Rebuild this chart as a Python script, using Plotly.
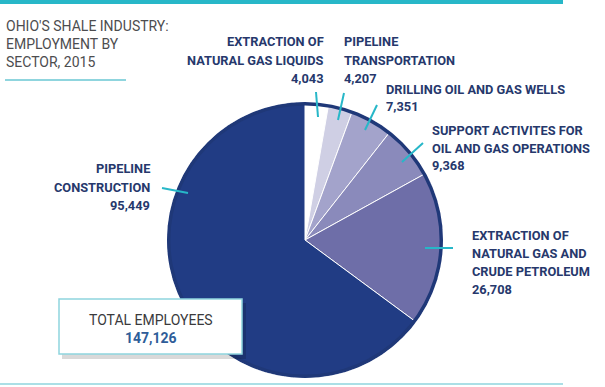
import plotly.graph_objects as go

# ---------------- data ----------------
sectors = [
    "Extraction of Natural Gas Liquids",
    "Pipeline Transportation",
    "Drilling Oil and Gas Wells",
    "Support Activites for Oil and Gas Operations",
    "Extraction of Natural Gas and Crude Petroleum",
    "Pipeline Construction",
]
employees = [4043, 4207, 7351, 9368, 26708, 95449]
label_lines = [
    ["EXTRACTION OF", "NATURAL GAS LIQUIDS"],
    ["PIPELINE", "TRANSPORTATION"],
    ["DRILLING OIL AND GAS WELLS"],
    ["SUPPORT ACTIVITES FOR", "OIL AND GAS OPERATIONS"],
    ["EXTRACTION OF", "NATURAL GAS AND", "CRUDE PETROLEUM"],
    ["PIPELINE", "CONSTRUCTION"],
]
title_lines = ["OHIO'S SHALE INDUSTRY:", "EMPLOYMENT BY", "SECTOR, 2015"]
total_label = "TOTAL EMPLOYEES"
total_employees = sum(employees)

# ---------------- styles ----------------
slice_colors = ["#ffffff", "#cfcfe4", "#a3a3cb", "#8a8abb", "#6e6ea8", "#213c84"]
NAVY = "#1f3878"
CYAN = "#27b7c8"
LIGHT_CYAN = "#8fd5de"
FONT = "Roboto, sans-serif"

W, H = 605, 387


def px(x):
    return x / W


def py(y):
    return 1 - y / H


# label layout (pixel anchors): x, alignment, y of first line
label_pos = [
    (326, "right", 42),
    (342, "left", 42),
    (384, "left", 89),
    (430, "left", 130),
    (470, "left", 235),
    (152, "right", 169),
]
PITCH = 18
leaders = [
    ((316, 92), (318, 117)),
    ((344, 93), (338, 120)),
    ((377, 105), (365, 130)),
    ((423, 143), (402, 162)),
    ((425, 248), (453, 248)),
    ((162, 188), (188, 193)),
]

# pie geometry: centre (305, 240), radius 138 px
cx, cy, r = 305, 240, 138
dom_x = [px(cx - r), px(cx + r)]
dom_y = [py(cy + r), py(cy - r)]

fig = go.Figure()
fig.add_trace(go.Pie(
    labels=sectors,
    values=employees,
    sort=False,
    direction="clockwise",
    rotation=0,
    marker=dict(colors=slice_colors, line=dict(color="#ffffff", width=1)),
    textinfo="none",
    hoverinfo="label+value",
    domain=dict(x=dom_x, y=dom_y),
    showlegend=False,
))
# outer navy rim
fig.add_trace(go.Pie(
    values=[1],
    hole=0.975,
    sort=False,
    marker=dict(colors=[NAVY], line=dict(width=0)),
    textinfo="none",
    hoverinfo="skip",
    domain=dict(x=dom_x, y=dom_y),
    showlegend=False,
))

shapes = []
# top rule
shapes.append(dict(type="rect", xref="paper", yref="paper",
                   x0=0, x1=px(563), y0=py(4), y1=py(0),
                   fillcolor=CYAN, line=dict(width=0)))
# bottom rule
shapes.append(dict(type="line", xref="paper", yref="paper",
                   x0=0, x1=px(563), y0=py(384), y1=py(384),
                   line=dict(color=LIGHT_CYAN, width=1.5)))
# title underline
shapes.append(dict(type="line", xref="paper", yref="paper",
                   x0=px(5), x1=px(126), y0=py(80), y1=py(80),
                   line=dict(color=LIGHT_CYAN, width=2)))
# leader lines
for (a, b) in leaders:
    shapes.append(dict(type="line", xref="paper", yref="paper",
                       x0=px(a[0]), y0=py(a[1]), x1=px(b[0]), y1=py(b[1]),
                       line=dict(color=CYAN, width=2)))
# total box shadow + box
shapes.append(dict(type="rect", xref="paper", yref="paper",
                   x0=px(62), x1=px(246), y0=py(359), y1=py(303),
                   fillcolor="rgba(0,0,0,0.15)", line=dict(width=0)))
shapes.append(dict(type="rect", xref="paper", yref="paper",
                   x0=px(59), x1=px(242), y0=py(354), y1=py(299),
                   fillcolor="#ffffff", line=dict(color=LIGHT_CYAN, width=1.5)))

annotations = []


def add_line(text, x, y, anchor, size, color):
    annotations.append(dict(
        text=text, xref="paper", yref="paper",
        x=px(x), y=py(y), xanchor=anchor, yanchor="middle", align=anchor,
        showarrow=False, font=dict(family=FONT, size=size, color=color)))


# title
for i, t in enumerate(title_lines):
    add_line(t, 4, 26 + i * 18, "left", 14, "#4d4d4f")
# sector labels
for lines, val, (x, al, y0) in zip(label_lines, employees, label_pos):
    for i, t in enumerate(lines + [f"{val:,}"]):
        add_line(f"<b>{t}</b>", x, y0 + i * PITCH, al, 12.8, "#26386c")
# total box text
add_line(total_label, 151, 320, "center", 14, "#3a3a3c")
add_line(f"<b>{total_employees:,}</b>", 151, 338, "center", 14, "#2e5d99")

fig.update_layout(
    width=W, height=H,
    margin=dict(l=0, r=0, t=0, b=0),
    paper_bgcolor="#ffffff",
    plot_bgcolor="#ffffff",
    shapes=shapes,
    annotations=annotations,
)

fig.write_html("out.html", config={"displayModeBar": False},
               post_script="document.body.style.margin='0px';")
